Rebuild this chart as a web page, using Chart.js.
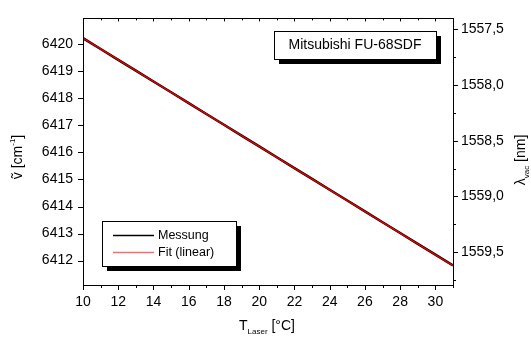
<!DOCTYPE html>
<html>
<head>
<meta charset="utf-8">
<script src="https://cdn.jsdelivr.net/npm/chart.js@4"></script>
<style>
  body { margin: 0; background: #fff; }
  #wrap { width: 531px; height: 337px; position: relative; }
</style>
</head>
<body>
<div id="wrap"><canvas id="laserChart"></canvas></div>
<script>
// ── Daten ────────────────────────────────────────────
const temperatur = [10, 11, 12, 13, 14, 15, 16, 17, 18, 19, 20, 21, 22, 23, 24, 25, 26, 27, 28, 29, 30, 31];
const messung = [6420.22, 6419.82, 6419.42, 6419.02, 6418.62, 6418.22, 6417.82, 6417.42, 6417.02, 6416.62, 6416.22,
                 6415.82, 6415.42, 6415.02, 6414.62, 6414.22, 6413.82, 6413.42, 6413.02, 6412.62, 6412.22, 6411.82];
const fitTemp = [10, 31];
const fitWert = [6420.22, 6411.82];

const xBereich = [10, 31];
const nuBereich = [6411.1, 6420.95];
const xTicks = [10, 12, 14, 16, 18, 20, 22, 24, 26, 28, 30];
const nuTicks = [6412, 6413, 6414, 6415, 6416, 6417, 6418, 6419, 6420];
const lambdaTicks = [1557.5, 1558.0, 1558.5, 1559.0, 1559.5];
const titelText = 'Mitsubishi FU-68SDF';

const FONT = '"Liberation Sans", Arial, Helvetica, sans-serif';

// Text mit Hoch-/Tiefstellung, zentriert
function richText(ctx, parts, cx, cy, rot) {
    ctx.save();
    ctx.translate(cx, cy);
    ctx.rotate(rot);
    ctx.textBaseline = 'middle';
    ctx.textAlign = 'left';
    let w = 0;
    parts.forEach(p => {
        ctx.font = (p.s ? 8 : 14) + 'px ' + FONT;
        p.w = ctx.measureText(p.t).width;
        w += p.w;
    });
    let x = -w / 2;
    parts.forEach(p => {
        ctx.font = (p.s ? 8 : 14) + 'px ' + FONT;
        const dy = p.s === 'sub' ? 6 : (p.s === 'sup' ? -5 : 0);
        ctx.fillText(p.t, x, dy);
        x += p.w;
    });
    ctx.restore();
}

function boxMitSchatten(ctx, l, t, r, b) {
    ctx.fillStyle = '#000';
    ctx.fillRect(l + 5, t + 5, r - l, b - t);
    ctx.fillStyle = '#fff';
    ctx.fillRect(l, t, r - l, b - t);
    ctx.strokeStyle = '#000';
    ctx.lineWidth = 1;
    ctx.strokeRect(l + 0.5, t + 0.5, r - l, b - t);
}

const rahmenPlugin = {
    id: 'rahmen',
    afterDraw(chart) {
        const ctx = chart.ctx;
        const a = chart.chartArea;
        const sx = chart.scales.x, sy = chart.scales.y, sl = chart.scales.lambda;
        ctx.save();
        ctx.strokeStyle = '#000';
        ctx.lineWidth = 1;
        ctx.strokeRect(Math.round(a.left) + 0.5, Math.round(a.top) + 0.5,
                       Math.round(a.right - a.left), Math.round(a.bottom - a.top));

        ctx.beginPath();
        // x-Achse: Haupt- und Nebenstriche
        for (let t = xBereich[0]; t <= xBereich[1]; t++) {
            const px = Math.round(sx.getPixelForValue(t)) + 0.5;
            const len = t % 2 === 0 ? 5 : 3;
            ctx.moveTo(px, a.bottom); ctx.lineTo(px, a.bottom + len);
            ctx.moveTo(px, a.top); ctx.lineTo(px, a.top + (t % 2 === 0 ? 3 : 2));
        }
        // linke Achse
        nuTicks.forEach(v => {
            const py = Math.round(sy.getPixelForValue(v)) + 0.5;
            ctx.moveTo(a.left, py); ctx.lineTo(a.left - 5, py);
        });
        // rechte Achse
        for (let l = 1557.5; l <= 1559.8; l += 0.25) {
            const py = Math.round(sl.getPixelForValue(l)) + 0.5;
            const major = Math.abs(l * 2 - Math.round(l * 2)) < 1e-6;
            ctx.moveTo(a.right, py); ctx.lineTo(a.right + (major ? 5 : 3), py);
        }
        ctx.stroke();

        // Achsentitel
        ctx.fillStyle = '#000';
        richText(ctx, [{ t: 'T' }, { t: 'Laser', s: 'sub' }, { t: ' [°C]' }], 267, 326, 0);
        richText(ctx, [{ t: '\u1E7D [cm' }, { t: '-1', s: 'sup' }, { t: ']' }], 18, 157, -Math.PI / 2);
        richText(ctx, [{ t: 'λ' }, { t: 'vac', s: 'sub' }, { t: ' [nm]' }], 521, 160, -Math.PI / 2);

        // Titelbox
        boxMitSchatten(ctx, 274, 31, 436, 59);
        ctx.fillStyle = '#000';
        ctx.font = '14px ' + FONT;
        ctx.textAlign = 'center';
        ctx.textBaseline = 'middle';
        ctx.fillText(titelText, 355, 45.5);

        // Legende
        boxMitSchatten(ctx, 102, 221, 236, 266);
        ctx.font = '12.5px ' + FONT;
        ctx.textAlign = 'left';
        chart.data.datasets.forEach((ds, i) => {
            const y = 235 + i * 17 + 0.5;
            ctx.strokeStyle = i === 0 ? '#000' : '#f07070';
            ctx.lineWidth = 1.5;
            ctx.beginPath();
            ctx.moveTo(113, y); ctx.lineTo(154, y);
            ctx.stroke();
            ctx.fillStyle = '#000';
            ctx.fillText(ds.label, 158, y);
        });
        ctx.restore();
    }
};

const ctx = document.getElementById('laserChart').getContext('2d');
const laserChart = new Chart(ctx, {
    type: 'line',
    data: {
        datasets: [{
            label: 'Messung',
            data: temperatur.map((t, i) => ({ x: t, y: messung[i] })),
            borderColor: '#000',
            borderWidth: 2.5,
            pointRadius: 0,
            order: 2,
            yAxisID: 'y'
        }, {
            label: 'Fit (linear)',
            data: fitTemp.map((t, i) => ({ x: t, y: fitWert[i] })),
            borderColor: '#e00000',
            borderWidth: 1.5,
            pointRadius: 0,
            order: 1,
            yAxisID: 'y'
        }]
    },
    options: {
        responsive: true,
        maintainAspectRatio: false,
        devicePixelRatio: 1,
        animation: false,
        layout: { padding: { top: 14, left: 0, right: 0, bottom: 0 } },
        plugins: {
            legend: { display: false },
            tooltip: { enabled: false }
        },
        scales: {
            x: {
                type: 'linear',
                min: xBereich[0], max: xBereich[1],
                afterBuildTicks: s => { s.ticks = xTicks.map(v => ({ value: v })); },
                afterFit: s => { s.height = 52; },
                grid: { display: false, drawTicks: false },
                border: { display: false },
                ticks: { color: '#000', padding: 9, maxRotation: 0, font: { family: FONT, size: 14 },
                         callback: v => String(v) }
            },
            y: {
                position: 'left',
                min: nuBereich[0], max: nuBereich[1],
                afterBuildTicks: s => { s.ticks = nuTicks.map(v => ({ value: v })); },
                afterFit: s => { s.width = 83; },
                grid: { display: false, drawTicks: false },
                border: { display: false },
                ticks: { color: '#000', padding: 10, font: { family: FONT, size: 14 },
                         callback: v => String(v) }
            },
            lambda: {
                position: 'right',
                reverse: true,
                min: 1e7 / nuBereich[1], max: 1e7 / nuBereich[0],
                afterBuildTicks: s => { s.ticks = lambdaTicks.map(v => ({ value: v })); },
                afterFit: s => { s.width = 78; },
                grid: { display: false, drawTicks: false },
                border: { display: false },
                ticks: {
                    color: '#000', padding: 8, font: { family: FONT, size: 14 },
                    callback: v => v.toFixed(1).replace('.', ',')
                }
            }
        }
    },
    plugins: [rahmenPlugin]
});
</script>
</body>
</html>
